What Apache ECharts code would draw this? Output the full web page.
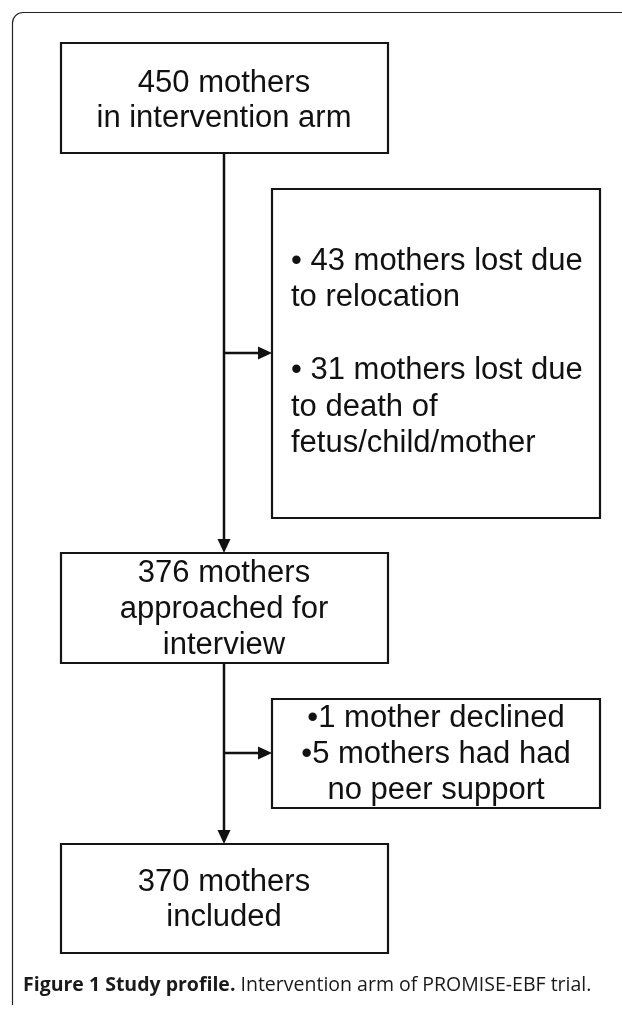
<!DOCTYPE html>
<html>
<head>
<meta charset="utf-8">
<script src="https://cdn.jsdelivr.net/npm/echarts@6/dist/echarts.min.js"></script>
<style>
  html, body { margin: 0; padding: 0; background: #ffffff; }
  #chart { width: 622px; height: 1015px; }
</style>
</head>
<body>
<div id="chart"></div>
<script>
// ---- Content (flowchart text and counts) ----
const boxLines1 = ['450 mothers', 'in intervention arm'];
const boxLines2 = ['\u2022 43 mothers lost due', 'to relocation', '', '\u2022 31 mothers lost due', 'to death of', 'fetus/child/mother'];
const boxLines3 = ['376 mothers', 'approached for', 'interview'];
const boxLines4 = ['\u20221 mother declined', '\u20225 mothers had had', 'no peer support'];
const boxLines5 = ['370 mothers', 'included'];
const captionBold = 'Figure 1 Study profile.';
const captionText = ' Intervention arm of PROMISE-EBF trial.';

// ---- Layout (page coordinates on hidden 0..622 x 0..1015 axes) ----
const boxLayout = [
  { x0: 61,  y0: 43,  x1: 388, y1: 153, align: 'center', tx: 224, ty: 83,  lh: 35 },
  { x0: 272, y0: 189, x1: 600, y1: 518, align: 'left',   tx: 291, ty: 261, lh: 36.5 },
  { x0: 61,  y0: 553, x1: 388, y1: 663, align: 'center', tx: 224, ty: 573, lh: 36 },
  { x0: 272, y0: 699, x1: 600, y1: 808, align: 'center', tx: 436, ty: 718, lh: 36 },
  { x0: 61,  y0: 844, x1: 388, y1: 953, align: 'center', tx: 224, ty: 882, lh: 35 }
];
const boxContents = [boxLines1, boxLines2, boxLines3, boxLines4, boxLines5];
const connectors = [
  [224, 153, 224, 553],
  [224, 353, 272, 353],
  [224, 663, 224, 844],
  [224, 753, 272, 753]
];

const chart = echarts.init(document.getElementById('chart'), null, { renderer: 'canvas' });

const boxData = boxLayout.map((b, i) => [b.x0, b.y0, b.x1, b.y1, i]);

function renderBox(params, api) {
  const i = api.value(4);
  const b = boxLayout[i];
  const p0 = api.coord([api.value(0), api.value(1)]);
  const p1 = api.coord([api.value(2), api.value(3)]);
  const children = [{
    type: 'rect',
    shape: { x: p0[0], y: p0[1], width: p1[0] - p0[0], height: p1[1] - p0[1] },
    style: { fill: '#ffffff', stroke: '#151515', lineWidth: 2.2 }
  }];
  boxContents[i].forEach((line, k) => {
    if (!line) return;
    const tp = api.coord([b.tx, b.ty + k * b.lh]);
    children.push({
      type: 'text',
      style: {
        text: line, x: tp[0], y: tp[1],
        fill: '#111111',
        fontSize: 31,
        fontFamily: '"Liberation Sans", Arial, sans-serif',
        align: b.align, verticalAlign: 'middle'
      }
    });
  });
  return { type: 'group', children: children };
}

function renderConnector(params, api) {
  const a = api.coord([api.value(0), api.value(1)]);
  const c = api.coord([api.value(2), api.value(3)]);
  const dx = c[0] - a[0], dy = c[1] - a[1];
  const len = Math.sqrt(dx * dx + dy * dy);
  const ux = dx / len, uy = dy / len;
  const headLen = 14, headHalf = 6.5;
  const bx = c[0] - ux * headLen, by = c[1] - uy * headLen;
  return {
    type: 'group',
    children: [
      { type: 'line', shape: { x1: a[0], y1: a[1], x2: bx, y2: by },
        style: { stroke: '#111111', lineWidth: 2.5 } },
      { type: 'polygon', shape: { points: [
          [c[0], c[1]],
          [bx - uy * headHalf, by + ux * headHalf],
          [bx + uy * headHalf, by - ux * headHalf]
        ] },
        style: { fill: '#111111' } }
    ]
  };
}

chart.setOption({
  animation: false,
  backgroundColor: '#ffffff',
  title: {
    text: '{b|' + captionBold + '}{n|' + captionText + '}',
    left: 23, top: 975, padding: 0,
    textStyle: {
      rich: {
        b: { fontFamily: '"Open Sans", sans-serif', fontWeight: 'bold', fontSize: 19.5, color: '#1a1a1a' },
        n: { fontFamily: '"Open Sans", sans-serif', fontWeight: 'normal', fontSize: 19.5, color: '#1a1a1a' }
      }
    }
  },
  graphic: [
    { type: 'line', shape: { x1: 12.5, y1: 1005, x2: 12.5, y2: 23 },
      style: { stroke: '#222222', lineWidth: 1.2 } },
    { type: 'arc', shape: { cx: 23, cy: 23, r: 10.5, startAngle: Math.PI, endAngle: Math.PI * 1.5 },
      style: { stroke: '#222222', lineWidth: 1.2, fill: null } },
    { type: 'line', shape: { x1: 23, y1: 12.5, x2: 622, y2: 12.5 },
      style: { stroke: '#222222', lineWidth: 1.2 } }
  ],
  grid: { left: 0, right: 0, top: 0, bottom: 0 },
  xAxis: { type: 'value', min: 0, max: 622, show: false },
  yAxis: { type: 'value', min: 0, max: 1015, inverse: true, show: false },
  series: [
    { type: 'custom', renderItem: renderConnector, data: connectors, z: 2, silent: true },
    { type: 'custom', renderItem: renderBox, data: boxData, z: 3, silent: true }
  ]
});
</script>
</body>
</html>
